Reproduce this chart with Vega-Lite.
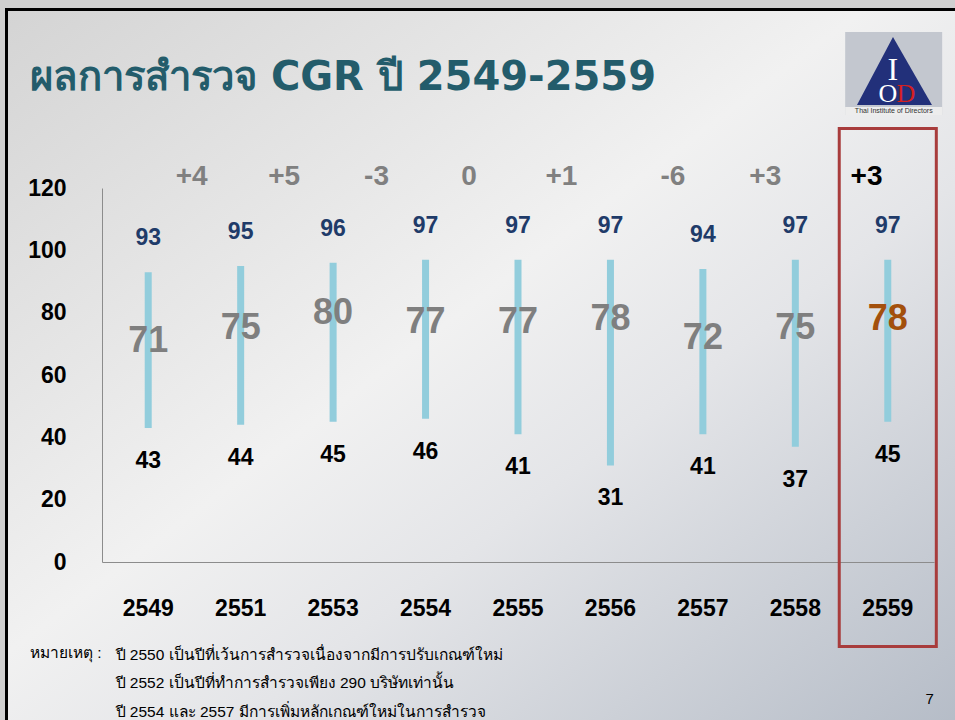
{
  "$schema": "https://vega.github.io/schema/vega-lite/v6.json",
  "width": 953.5,
  "height": 715.5,
  "autosize": {"type": "none"},
  "padding": {"left": 6.5, "top": 9.5, "right": -5, "bottom": -5},
  "background": "#d0d0d0",
  "config": {
    "font": "Liberation Sans",
    "view": {
      "stroke": "#000000",
      "strokeWidth": 3,
      "fill": {"gradient": "linear", "x1": 0, "y1": 0, "x2": 1, "y2": 1,
        "stops": [
          {"offset": 0, "color": "#d4d4d4"},
          {"offset": 0.45, "color": "#f1f1f1"},
          {"offset": 0.62, "color": "#e4e5e8"},
          {"offset": 1, "color": "#b5bcc7"}
        ]}
    }
  },
  "title": {
    "text": "ผลการสำรวจ CGR ปี 2549-2559",
    "subtitle": "หมายเหตุ :",
    "orient": "top",
    "anchor": "start",
    "frame": "group",
    "dx": 23.5,
    "offset": -652,
    "font": "DejaVu Sans",
    "fontSize": 40,
    "fontWeight": "bold",
    "color": "#235c6b",
    "subtitleFont": "Liberation Sans",
    "subtitleFontSize": 15.5,
    "subtitleColor": "#000000",
    "subtitlePadding": 548
  },
  "datasets": {
    "cgr": [
      {"year": "2549", "max": 93, "avg": 71, "min": 43, "chg": null},
      {"year": "2551", "max": 95, "avg": 75, "min": 44, "chg": "+4"},
      {"year": "2553", "max": 96, "avg": 80, "min": 45, "chg": "+5"},
      {"year": "2554", "max": 97, "avg": 77, "min": 46, "chg": "-3"},
      {"year": "2555", "max": 97, "avg": 77, "min": 41, "chg": "0"},
      {"year": "2556", "max": 97, "avg": 78, "min": 31, "chg": "+1"},
      {"year": "2557", "max": 94, "avg": 72, "min": 41, "chg": "-6"},
      {"year": "2558", "max": 97, "avg": 75, "min": 37, "chg": "+3"},
      {"year": "2559", "max": 97, "avg": 78, "min": 45, "chg": "+3"}
    ],
    "one": [{"k": 1}]
  },
  "data": {"name": "cgr"},
  "encoding": {
    "x": {
      "field": "year",
      "type": "ordinal",
      "scale": {"type": "band", "range": [95.5, 927.5], "paddingInner": 0, "paddingOuter": 0},
      "axis": {
        "orient": "bottom",
        "offset": -163,
        "domainColor": "#8c8c8c",
        "domainWidth": 1,
        "ticks": false,
        "grid": false,
        "labelAngle": 0,
        "labelFont": "Liberation Sans",
        "labelFontSize": 23,
        "labelFontWeight": "bold",
        "labelColor": "#000000",
        "labelBaseline": "middle",
        "labelPadding": 46.5,
        "title": [
          "ปี 2550 เป็นปีที่เว้นการสำรวจเนื่องจากมีการปรับเกณฑ์ใหม่",
          "ปี 2552 เป็นปีที่ทำการสำรวจเพียง 290 บริษัทเท่านั้น",
          "ปี 2554 และ 2557 มีการเพิ่มหลักเกณฑ์ใหม่ในการสำรวจ"
        ],
        "titleX": 108.5,
        "titleY": 97,
        "titleAlign": "left",
        "titleAnchor": "start",
        "titleBaseline": "alphabetic",
        "titleFont": "Liberation Sans",
        "titleFontSize": 15.5,
        "titleFontWeight": "normal",
        "titleColor": "#000000",
        "titleLineHeight": 28.5
      }
    }
  },
  "layer": [
    {
      "mark": {"type": "bar", "width": 7, "color": "#92cddc"},
      "encoding": {
        "y": {
          "field": "min",
          "type": "quantitative",
          "scale": {"domain": [0, 120], "range": [552.5, 178.5], "nice": false, "zero": true},
          "axis": {
            "orient": "left",
            "offset": -95.5,
            "values": [0, 20, 40, 60, 80, 100, 120],
            "domainColor": "#8c8c8c",
            "domainWidth": 1,
            "ticks": false,
            "grid": false,
            "labelFont": "Liberation Sans",
            "labelFontSize": 23,
            "labelFontWeight": "bold",
            "labelColor": "#000000",
            "labelPadding": 36,
            "title": "7",
            "titleAngle": 0,
            "titleX": 823,
            "titleY": 693.5,
            "titleAlign": "left",
            "titleAnchor": "start",
            "titleBaseline": "alphabetic",
            "titleFont": "Liberation Sans",
            "titleFontSize": 15,
            "titleFontWeight": "normal",
            "titleColor": "#000000"
          }
        },
        "y2": {"field": "max"}
      }
    },
    {
      "mark": {"type": "text", "baseline": "middle", "dy": -34, "fontSize": 23, "fontWeight": "bold", "color": "#1f3b69"},
      "encoding": {
        "y": {"field": "max", "type": "quantitative"},
        "text": {"field": "max", "type": "quantitative"}
      }
    },
    {
      "mark": {"type": "text", "baseline": "middle", "dy": 33, "fontSize": 23, "fontWeight": "bold", "color": "#000000"},
      "encoding": {
        "y": {"field": "min", "type": "quantitative"},
        "text": {"field": "min", "type": "quantitative"}
      }
    },
    {
      "transform": [{"filter": "datum.year != '2559'"}],
      "mark": {"type": "text", "baseline": "middle", "fontSize": 36, "fontWeight": "bold", "color": "#7f7f7f"},
      "encoding": {
        "y": {"field": "avg", "type": "quantitative"},
        "text": {"field": "avg", "type": "quantitative"}
      }
    },
    {
      "transform": [{"filter": "datum.year == '2559'"}],
      "mark": {"type": "text", "baseline": "middle", "fontSize": 36, "fontWeight": "bold", "color": "#a3500c"},
      "encoding": {
        "y": {"field": "avg", "type": "quantitative"},
        "text": {"field": "avg", "type": "quantitative"}
      }
    },
    {
      "transform": [{"filter": {"field": "year", "oneOf": ["2551", "2553", "2554", "2555", "2556"]}}],
      "mark": {"type": "text", "baseline": "middle", "fontSize": 28, "fontWeight": "bold", "color": "#808080"},
      "encoding": {
        "x": {"field": "year", "type": "ordinal", "bandPosition": -0.03},
        "y": {"datum": 123.5, "type": "quantitative"},
        "text": {"field": "chg", "type": "nominal"}
      }
    },
    {
      "transform": [{"filter": {"field": "year", "oneOf": ["2557", "2558"]}}],
      "mark": {"type": "text", "baseline": "middle", "fontSize": 28, "fontWeight": "bold", "color": "#808080"},
      "encoding": {
        "x": {"field": "year", "type": "ordinal", "bandPosition": 0.175},
        "y": {"datum": 123.5, "type": "quantitative"},
        "text": {"field": "chg", "type": "nominal"}
      }
    },
    {
      "transform": [{"filter": "datum.year == '2559'"}],
      "mark": {"type": "text", "baseline": "middle", "fontSize": 28, "fontWeight": "bold", "color": "#000000"},
      "encoding": {
        "x": {"field": "year", "type": "ordinal", "bandPosition": 0.27},
        "y": {"datum": 123.5, "type": "quantitative"},
        "text": {"field": "chg", "type": "nominal"}
      }
    },
    {
      "data": {"name": "one"},
      "mark": {"type": "bar", "width": {"band": 1.05}, "fillOpacity": 0, "fill": "#ffffff", "stroke": "#a83c3c", "strokeWidth": 3},
      "encoding": {
        "x": {"datum": "2559", "type": "ordinal"},
        "y": {"datum": 139.1, "type": "quantitative"},
        "y2": {"datum": -27.1}
      }
    },
    {
      "data": {"name": "one"},
      "mark": {"type": "point", "shape": "M-0.852,-0.74L1.088,-0.74L1.088,0.92L-0.852,0.92Z", "size": 10000, "filled": true, "opacity": 1, "color": "#c3c7cf", "strokeWidth": 0},
      "encoding": {
        "x": {"datum": "2559", "type": "ordinal"},
        "y": {"datum": 158.18, "type": "quantitative"}
      }
    },
    {
      "data": {"name": "one"},
      "mark": {"type": "point", "shape": "M-0.852,0.76L1.088,0.76L1.088,0.92L-0.852,0.92Z", "size": 10000, "filled": true, "opacity": 1, "color": "#ededed", "strokeWidth": 0},
      "encoding": {
        "x": {"datum": "2559", "type": "ordinal"},
        "y": {"datum": 158.18, "type": "quantitative"}
      }
    },
    {
      "data": {"name": "one"},
      "mark": {"type": "point", "shape": "M0.104,-0.64L0.884,0.72L-0.616,0.72Z", "size": 10000, "filled": true, "opacity": 1, "color": "#22307a", "strokeWidth": 0},
      "encoding": {
        "x": {"datum": "2559", "type": "ordinal"},
        "y": {"datum": 158.18, "type": "quantitative"}
      }
    },
    {
      "data": {"name": "one"},
      "mark": {"type": "text", "text": "I", "font": "Liberation Serif", "fontSize": 32, "color": "#ffffff", "baseline": "alphabetic", "dx": 5},
      "encoding": {
        "x": {"datum": "2559", "type": "ordinal"},
        "y": {"datum": 154.6, "type": "quantitative"}
      }
    },
    {
      "data": {"name": "one"},
      "mark": {"type": "text", "text": "O", "font": "Liberation Serif", "fontSize": 26, "color": "#ffffff", "baseline": "alphabetic", "dx": 0},
      "encoding": {
        "x": {"datum": "2559", "type": "ordinal"},
        "y": {"datum": 147.6, "type": "quantitative"}
      }
    },
    {
      "data": {"name": "one"},
      "mark": {"type": "text", "text": "D", "font": "Liberation Serif", "fontSize": 26, "color": "#d42020", "baseline": "alphabetic", "dx": 18},
      "encoding": {
        "x": {"datum": "2559", "type": "ordinal"},
        "y": {"datum": 147.6, "type": "quantitative"}
      }
    },
    {
      "data": {"name": "one"},
      "mark": {"type": "text", "text": "Thai Institute of Directors", "fontSize": 7, "color": "#333333", "baseline": "middle", "dx": 6},
      "encoding": {
        "x": {"datum": "2559", "type": "ordinal"},
        "y": {"datum": 144.7, "type": "quantitative"}
      }
    }
  ]
}
